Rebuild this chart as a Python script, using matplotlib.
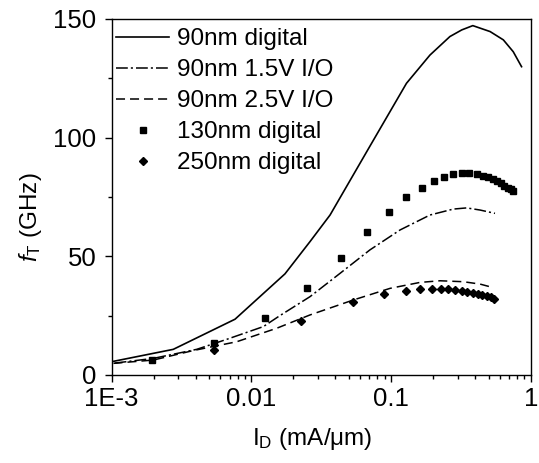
import matplotlib
matplotlib.use("Agg")
import matplotlib.pyplot as plt
from matplotlib.ticker import LogLocator, FixedLocator, NullFormatter, FixedFormatter

plt.rcParams['font.family'] = ['Liberation Sans', 'DejaVu Sans']
plt.rcParams['mathtext.fontset'] = 'custom'
plt.rcParams['mathtext.rm'] = 'Liberation Sans'
plt.rcParams['mathtext.it'] = 'Liberation Sans:italic'
plt.rcParams['lines.scale_dashes'] = False

# ---- data ----
d90_x = [0.001, 0.00276, 0.00764, 0.0174, 0.0263, 0.0366, 0.0687, 0.129, 0.19,
         0.264, 0.321, 0.385, 0.512, 0.637, 0.75, 0.86]
d90_y = [5.6, 10.8, 23.5, 42.6, 56.2, 67.4, 95.2, 122.9, 134.8,
         142.6, 145.4, 147.2, 144.7, 141.2, 136.2, 129.9]

io15_x = [0.00105, 0.00199, 0.00406, 0.00665, 0.0122, 0.016, 0.0263, 0.0431,
          0.0706, 0.116, 0.19, 0.279, 0.348, 0.434, 0.555]
io15_y = [5.0, 7.0, 10.8, 15.0, 20.4, 25.0, 33.0, 42.8,
          52.7, 61.1, 67.4, 69.9, 70.4, 69.5, 68.1]

io25_x = [0.00103, 0.00199, 0.00384, 0.00785, 0.0152, 0.0263, 0.0537, 0.0984,
          0.161, 0.224, 0.329, 0.434, 0.54]
io25_y = [4.9, 6.3, 10.3, 14.0, 19.7, 25.3, 31.6, 36.5,
          39.0, 39.7, 39.3, 38.3, 36.8]

d130_x = [0.00193, 0.0054, 0.0125, 0.0249, 0.0436, 0.0676, 0.0966, 0.129, 0.166,
          0.202, 0.24, 0.279, 0.321, 0.363, 0.41, 0.458, 0.497, 0.54, 0.576,
          0.612, 0.647, 0.684, 0.719, 0.75]
d130_y = [6.3, 13.3, 24.2, 36.7, 49.4, 60.4, 68.8, 74.9, 78.9,
          81.7, 83.6, 84.7, 85.1, 85.0, 84.6, 83.8, 83.3, 82.4, 81.7,
          80.8, 79.8, 78.9, 78.2, 77.5]

d250_x = [0.0054, 0.0225, 0.0537, 0.0896, 0.127, 0.161, 0.195, 0.227, 0.257,
          0.287, 0.321, 0.352, 0.385, 0.417, 0.45, 0.484, 0.517, 0.548]
d250_y = [10.5, 22.9, 30.8, 34.1, 35.5, 36.1, 36.2, 36.2, 36.1,
          35.8, 35.5, 35.1, 34.7, 34.3, 33.8, 33.3, 32.7, 32.1]

labels = ['90nm digital', '90nm 1.5V I/O', '90nm 2.5V I/O', '130nm digital', '250nm digital']
xtick_vals = [0.001, 0.01, 0.1, 1]
xtick_labels = ['1E-3', '0.01', '0.1', '1']
ytick_vals = [0, 50, 100, 150]

# ---- figure ----
fig = plt.figure(figsize=(5.39, 4.63), dpi=100)
ax = fig.add_axes([0.2072, 0.1901, 0.7774, 0.7689])

ax.plot(d90_x, d90_y, color='black', lw=1.2, ls='-', label=labels[0])
ax.plot(io15_x, io15_y, color='black', lw=1.1, dashes=(8.5, 2.2, 1.5, 2.2), label=labels[1])
ax.plot(io25_x, io25_y, color='black', lw=1.1, dashes=(6.5, 3.6), label=labels[2])
ax.plot(d130_x, d130_y, ls='none', marker='s', ms=4.5, color='black', label=labels[3])
ax.plot(d250_x, d250_y, ls='none', marker='D', ms=4.1, color='black', label=labels[4])

ax.set_xscale('log')
ax.set_xlim(0.001, 1)
ax.set_ylim(0, 150)

ax.xaxis.set_major_locator(FixedLocator(xtick_vals))
ax.xaxis.set_major_formatter(FixedFormatter(xtick_labels))
ax.xaxis.set_minor_locator(LogLocator(base=10, subs=range(2, 10)))
ax.xaxis.set_minor_formatter(NullFormatter())
ax.yaxis.set_major_locator(FixedLocator(ytick_vals))
ax.yaxis.set_minor_locator(FixedLocator([25, 75, 125]))

ax.tick_params(which='major', direction='out', length=5, width=1.0, labelsize=18.5)
ax.tick_params(which='minor', direction='out', length=3, width=1.0)
ax.tick_params(axis='x', which='major', pad=4)
ax.tick_params(axis='y', which='major', pad=6)
for s in ax.spines.values():
    s.set_linewidth(1.0)

ax.set_xlabel('I$_{\\rm D}$ (mA/\u03bcm)', fontsize=17.5)
ax.set_ylabel('$f_{\\rm T}$ (GHz)', fontsize=17.5)
ax.xaxis.set_label_coords(0.478, -0.143)
ax.yaxis.set_label_coords(-0.162, 0.444)

leg = ax.legend(loc='upper left', bbox_to_anchor=(0.010, 0.974), frameon=False,
                fontsize=17.5, handlelength=2.2, handletextpad=0.32,
                labelspacing=0.37, borderpad=0, borderaxespad=0, numpoints=1)

fig.savefig('out.png', dpi=100)
